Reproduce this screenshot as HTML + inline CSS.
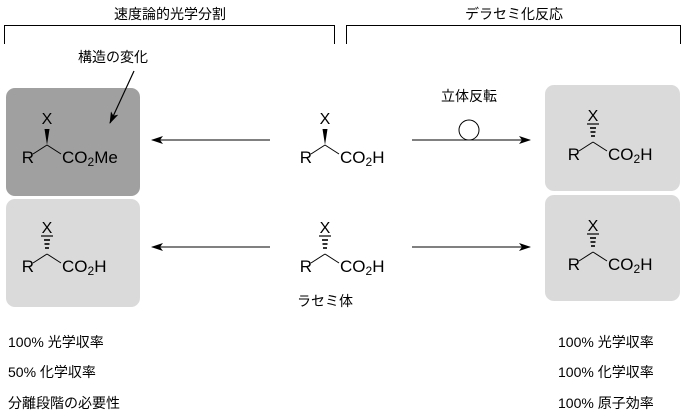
<!DOCTYPE html>
<html><head><meta charset="utf-8"><style>
html,body{margin:0;padding:0;background:#fff;}
svg{display:block;font-family:"Liberation Sans","Noto Sans CJK JP",sans-serif;}
</style></head><body>
<svg width="685" height="415" viewBox="0 0 685 415">
<defs>
<marker id="ah" markerWidth="12" markerHeight="8" refX="11" refY="4" orient="auto" markerUnits="userSpaceOnUse"><path d="M0,0 L12,4 L0,8 L3,4 Z" fill="#000"/></marker>
<g id="wedge">
<text x="0" y="-21" text-anchor="middle" font-size="16">X</text>
<polygon points="0,0 -2.5,-16 2.5,-16" fill="#000"/>
<line x1="0" y1="0" x2="-14" y2="9" stroke="#000" stroke-width="1"/>
<line x1="0" y1="0" x2="14" y2="9" stroke="#000" stroke-width="1"/>
<text x="-13" y="18" text-anchor="end" font-size="17">R</text>
</g>
<g id="hash">
<text x="0" y="-21" text-anchor="middle" font-size="16">X</text>
<line x1="-6" y1="-18" x2="6" y2="-18" stroke="#000" stroke-width="1.2"/>
<line x1="-3" y1="-14" x2="3" y2="-14" stroke="#000" stroke-width="1.6"/>
<line x1="-2.5" y1="-10" x2="2.5" y2="-10" stroke="#000" stroke-width="1.6"/>
<line x1="-2" y1="-6" x2="2" y2="-6" stroke="#000" stroke-width="1.6"/>
<line x1="0" y1="0" x2="-14" y2="9" stroke="#000" stroke-width="1"/>
<line x1="0" y1="0" x2="14" y2="9" stroke="#000" stroke-width="1"/>
<text x="-13" y="18" text-anchor="end" font-size="17">R</text>
</g>
<g id="cooh"><text x="15" y="18" font-size="17">CO<tspan font-size="12" dy="3">2</tspan><tspan dy="-3">H</tspan></text></g>
</defs>

<text x="170" y="19" text-anchor="middle" font-size="14">速度論的光学分割</text>
<text x="514" y="19" text-anchor="middle" font-size="14">デラセミ化反応</text>
<path d="M4.5,44 V25.5 H334.5 V44" fill="none" stroke="#000" stroke-width="1"/>
<path d="M346.5,44 V25.5 H680.5 V44" fill="none" stroke="#000" stroke-width="1"/>

<rect x="6" y="88" width="134" height="108" rx="9" fill="#a0a0a0"/>
<rect x="6" y="199" width="134" height="108" rx="9" fill="#dadada"/>
<rect x="545" y="85" width="135" height="106" rx="9" fill="#dadada"/>
<rect x="545" y="195" width="135" height="106" rx="9" fill="#dadada"/>

<text x="113" y="62" text-anchor="middle" font-size="14">構造の変化</text>
<line x1="134" y1="71" x2="110" y2="123" stroke="#000" stroke-width="1.2" marker-end="url(#ah)"/>

<g transform="translate(47,145)"><use href="#wedge"/><text x="15" y="18" font-size="17">CO<tspan font-size="12" dy="3">2</tspan><tspan dy="-3">Me</tspan></text></g>
<g transform="translate(47,254)"><use href="#hash"/><use href="#cooh"/></g>
<g transform="translate(325,145)"><use href="#wedge"/><use href="#cooh"/></g>
<g transform="translate(325,254)"><use href="#hash"/><use href="#cooh"/></g>
<g transform="translate(593,142)"><use href="#hash"/><use href="#cooh"/></g>
<g transform="translate(593,252)"><use href="#hash"/><use href="#cooh"/></g>

<line x1="270" y1="140" x2="152" y2="140" stroke="#000" stroke-width="1" marker-end="url(#ah)"/>
<line x1="270" y1="247" x2="152" y2="247" stroke="#000" stroke-width="1" marker-end="url(#ah)"/>
<line x1="412" y1="140" x2="530" y2="140" stroke="#000" stroke-width="1" marker-end="url(#ah)"/>
<line x1="412" y1="247" x2="530" y2="247" stroke="#000" stroke-width="1" marker-end="url(#ah)"/>
<circle cx="469" cy="130" r="10" fill="none" stroke="#000" stroke-width="1"/>
<text x="469" y="101" text-anchor="middle" font-size="14">立体反転</text>
<text x="325" y="306" text-anchor="middle" font-size="14">ラセミ体</text>

<g font-size="14">
<text x="8" y="347">100% 光学収率</text>
<text x="8" y="377">50% 化学収率</text>
<text x="8" y="408">分離段階の必要性</text>
<text x="558" y="347">100% 光学収率</text>
<text x="558" y="377">100% 化学収率</text>
<text x="558" y="408">100% 原子効率</text>
</g>
</svg>
</body></html>
